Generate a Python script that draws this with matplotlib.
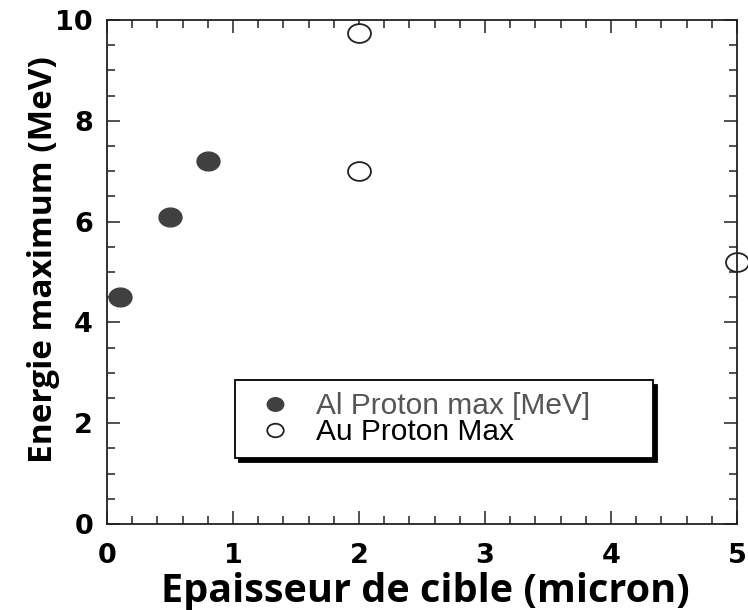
import matplotlib
matplotlib.use("Agg")
from matplotlib import pyplot as plt
from matplotlib.path import Path
from matplotlib.ticker import MultipleLocator

# epaisseur (micron) et energie max des protons (MeV)
al_x = [0.1, 0.5, 0.8]
al_y = [4.5, 6.1, 7.2]
au_x = [2.0, 2.0, 5.0]
au_y = [9.75, 7.0, 5.2]

# slightly flattened circle for the markers
circ = Path.unit_circle()
oval = Path(circ.vertices * [1.0, 0.82], circ.codes)

fig = plt.figure(figsize=(7.48, 6.10), dpi=100)
ax = fig.add_axes([107/748, 1 - 524/610, 630/748, 504/610])

ax.plot(al_x, al_y, marker=oval, ls="none", ms=16.5, mfc="#404040", mec="#404040",
        label="Al Proton max [MeV]", clip_on=False)
ax.plot(au_x, au_y, marker=oval, ls="none", ms=16.5, mfc="white", mec="#222222", mew=1.3,
        label="Au Proton Max", clip_on=False)

ax.set_xlim(0, 5)
ax.set_ylim(0, 10)
ax.xaxis.set_major_locator(MultipleLocator(1))
ax.xaxis.set_minor_locator(MultipleLocator(0.2))
ax.yaxis.set_major_locator(MultipleLocator(2))
ax.yaxis.set_minor_locator(MultipleLocator(0.5))
ax.tick_params(which="both", direction="in", top=True, right=True, width=1.1, color="#222222")
ax.tick_params(which="major", length=9.5)
ax.tick_params(which="minor", length=5.5)
ax.tick_params(axis="x", pad=14)
ax.tick_params(axis="y", pad=10)
for lab in ax.get_xticklabels() + ax.get_yticklabels():
    lab.set_fontfamily("DejaVu Sans")
    lab.set_fontweight("bold")
    lab.set_fontsize(19.5)
for s in ax.spines.values():
    s.set_linewidth(1.3)
    s.set_color("#222222")

ax.set_xlabel("Epaisseur de cible (micron)", fontsize=28.5, fontweight="bold",
              family="Open Sans")
ax.set_ylabel("Energie maximum (MeV)", fontsize=24, fontweight="bold",
              family="Open Sans")
ax.xaxis.set_label_coords(0.506, -0.096)
ax.yaxis.set_label_coords(-0.075, 0.524)

leg = ax.legend(loc="center", bbox_to_anchor=(0.203, 0.123, 0.663, 0.17), mode="expand",
                borderaxespad=0, frameon=True, fancybox=False,
                shadow={"color": "black", "alpha": 1, "ox": 3, "oy": -3},
                edgecolor="black", prop={"family": "Liberation Sans", "size": 21.5},
                handletextpad=0.4, handlelength=1.9, borderpad=0.4, labelspacing=-0.08,
                markerscale=0.72)
leg.get_frame().set_linewidth(1.3)
leg.get_texts()[0].set_color("#555555")

fig.savefig("out.png", dpi=100)
